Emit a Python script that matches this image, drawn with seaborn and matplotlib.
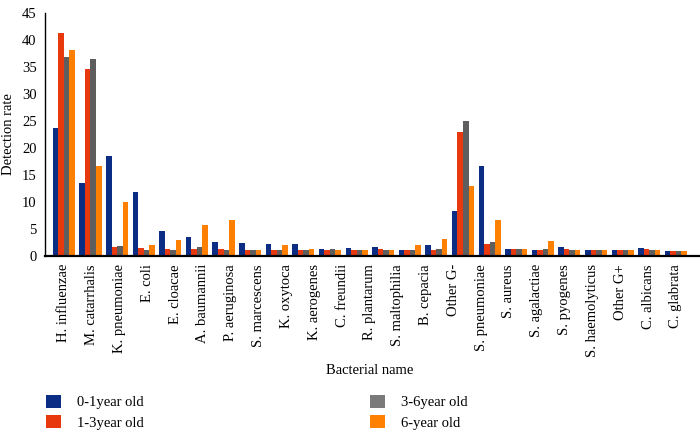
import matplotlib
matplotlib.use("Agg")
import matplotlib.pyplot as plt
from matplotlib.patches import Patch
import numpy as np
import pandas as pd
import seaborn as sns

# 23 printed names, but the figure shows 24 bar groups spread under them
bacteria = [
    "H. influenzae", "M. catarrhalis", "K. pneumoniae", "E. coli", "E. cloacae",
    "A. baumannii", "P. aeruginosa", "S. marcescens", "K. oxytoca", "K. aerogenes",
    "C. freundii", "R. plantarum", "S. maltophilia", "B. cepacia", "Other G-",
    "S. pneumoniae", "S. aureus", "S. agalactiae", "S. pyogenes", "S. haemolyticus",
    "Other G+", "C. albicans", "C. glabrata",
]
groups = list(range(24))

age_0_1 = [23.6, 13.4, 18.4, 11.9, 4.6, 3.5, 2.6, 2.3, 2.1, 2.1, 1.3, 1.4,
           1.6, 1.1, 1.9, 8.3, 16.6, 1.3, 1.0, 1.6, 1.1, 1.1, 1.4, 0.9]
age_1_3 = [41.3, 34.6, 1.6, 1.4, 1.2, 1.3, 1.3, 1.1, 1.1, 1.0, 1.0, 1.0,
           1.2, 1.1, 1.1, 22.9, 2.1, 1.3, 1.0, 1.2, 1.0, 1.0, 1.2, 0.9]
age_3_6 = [36.9, 36.4, 1.8, 1.1, 1.1, 1.6, 1.1, 1.1, 1.1, 1.0, 1.2, 1.0,
           1.0, 1.1, 1.3, 25.0, 2.5, 1.3, 1.2, 1.0, 1.0, 1.0, 1.0, 0.9]
age_6 = [38.2, 16.7, 10.0, 1.9, 2.9, 5.6, 6.6, 1.1, 1.9, 1.3, 1.0, 1.0,
         1.0, 2.0, 3.1, 13.0, 6.6, 1.3, 2.7, 1.0, 1.0, 1.0, 1.0, 0.9]

ages = ["0-1year old", "1-3year old", "3-6year old", "6-year old"]
COLORS = {
    "0-1year old": "#0B2D84",
    "1-3year old": "#E8380E",
    "3-6year old": "#5E5E5E",
    "6-year old": "#FF7F00",
}
LEGEND_COLORS = {
    "0-1year old": "#0B2D84",
    "1-3year old": "#E8380E",
    "3-6year old": "#7A7A7A",
    "6-year old": "#FF7F00",
}

plt.rcParams.update({
    "font.family": "Liberation Serif",
    "font.size": 10.5,
})

df = pd.DataFrame({
    "group": groups * 4,
    "age": np.repeat(ages, len(groups)),
    "rate": age_0_1 + age_1_3 + age_3_6 + age_6,
})

fig = plt.figure(figsize=(7, 4.3), dpi=100)
ax = fig.add_axes([45 / 700, 1 - 255.7 / 430, 654 / 700, 242.7 / 430])

sns.barplot(
    data=df, x="group", y="rate", hue="age", hue_order=ages,
    palette=COLORS, width=0.83, gap=0, saturation=1,
    errorbar=None, legend=False, ax=ax,
)

ax.set_ylim(0, 45)
ax.set_yticks(range(0, 46, 5))
ax.set_xlim(-0.71, 23.87)
ax.set_xticks(np.linspace(0, 23, len(bacteria)), labels=bacteria, rotation=90)
ax.tick_params(axis="both", length=0, labelsize=10.5)
ax.tick_params(axis="x", pad=6)
ax.tick_params(axis="y", pad=6)

for side in ("top", "right"):
    ax.spines[side].set_visible(False)
ax.spines["left"].set_linewidth(1.0)
ax.spines["bottom"].set_linewidth(1.6)

ax.set_xlabel("Bacterial name", fontsize=10.5)
ax.xaxis.set_label_coords(0.497, -0.445)
ax.set_ylabel("Detection rate", fontsize=10.5)
ax.yaxis.set_label_coords(-0.046, 0.5)

handles = [Patch(facecolor=LEGEND_COLORS[a], edgecolor="none", label=a) for a in ages]
fig.legend(
    handles=handles, ncol=2, loc="lower left",
    bbox_to_anchor=(0.058, -0.013, 0.618, 0.1), mode="expand",
    frameon=False, handlelength=1.0, handleheight=1.0, handletextpad=1.1,
    labelspacing=0.4, fontsize=10.5, borderaxespad=0.0,
)

fig.savefig("out.png", dpi=100)
